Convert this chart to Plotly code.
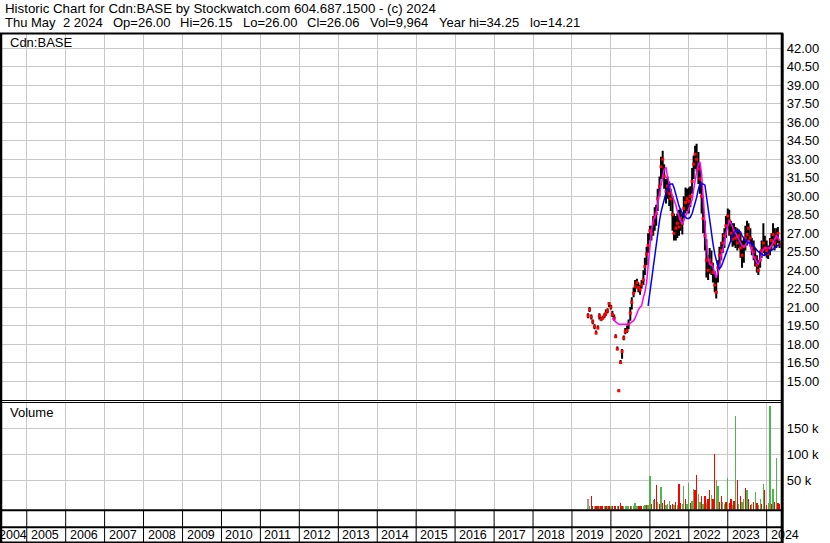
import plotly.graph_objects as go
import pandas as pd

W, H = 830, 543

# ---------------- data ----------------
dates = pd.date_range("2019-06-01", "2024-05-01", freq="SMS")  # semi-monthly sample points

close = [
    20.3, 20.8, 20.2, 19.8, 19.4, 18.9, 19.3, 20.3, 20.0, 20.1, 20.3, 20.5, 20.7, 21.3,
    21.0, 20.4, 20.1, 18.6, 17.6, 14.2, 16.5, 17.4, 18.5, 19.0, 19.1, 19.6, 20.5, 21.4,
    22.1, 22.7, 23.0, 22.6, 22.4, 22.8, 23.2, 24.3, 25.3, 26.0,
    27.2, 27.0, 27.8, 28.3, 28.6, 29.8, 30.8, 32.4, 33.0, 31.6, 30.4, 30.8, 30.2, 29.8,
    28.5, 27.0, 27.4, 27.8, 27.5, 28.2, 27.8, 29.0, 29.5, 29.8,
    29.6, 30.0, 31.2, 32.6, 33.4, 33.0, 32.2, 31.4, 30.0, 28.2, 26.8, 24.8, 24.0, 24.8,
    24.5, 23.8, 22.8, 22.2, 24.2, 25.2, 25.6, 26.2, 26.8, 27.6,
    28.4, 28.0, 27.0, 26.5, 27.2, 26.6, 26.2, 26.8, 25.8, 25.2, 25.9, 26.6, 26.9, 27.4,
    26.6, 25.8, 25.5, 25.0, 24.4, 24.0, 24.8, 25.6, 26.2, 25.8,
    25.6, 25.3, 25.8, 26.4, 26.9, 26.2, 26.6, 27.0, 26.06,
]
high = [
    20.5, 21.0, 20.4, 20.0, 19.6, 19.1, 19.5, 20.5, 20.2, 20.3, 20.5, 20.8, 20.9, 21.4,
    21.2, 20.7, 20.4, 18.8, 17.8, 14.3, 16.7, 17.6, 18.7, 19.3, 19.5, 20.0, 21.0, 21.8,
    22.6, 23.2, 23.3, 23.0, 22.8, 23.2, 24.0, 25.0, 25.9, 27.0,
    27.6, 27.6, 28.4, 29.1, 29.3, 30.6, 31.6, 33.2, 33.7, 32.6, 31.4, 31.6, 31.2, 30.6,
    30.0, 28.6, 28.4, 28.6, 28.9, 29.0, 28.6, 30.0, 30.7, 30.6,
    30.7, 30.8, 32.3, 33.3, 34.1, 34.25, 33.6, 32.6, 31.2, 30.0, 28.0, 26.5, 25.2, 25.8,
    25.6, 24.6, 23.9, 23.4, 24.8, 25.9, 26.3, 27.0, 27.4, 28.4,
    29.0, 28.9, 28.0, 27.8, 27.8, 27.5, 27.4, 27.3, 27.0, 26.4, 26.6, 27.6, 28.0, 27.8,
    27.4, 26.6, 26.4, 25.8, 25.2, 24.8, 25.6, 26.4, 27.8, 26.8,
    26.4, 26.0, 26.6, 27.0, 27.8, 27.4, 27.4, 27.5, 26.4,
]
low = [
    20.1, 20.6, 20.0, 19.6, 19.2, 18.8, 19.2, 20.0, 19.9, 20.0, 20.1, 20.3, 20.5, 21.0,
    20.8, 20.2, 19.9, 18.5, 17.5, 14.1, 16.4, 16.8, 18.3, 18.8, 18.9, 19.2, 19.9, 20.8,
    21.8, 22.2, 22.5, 22.2, 22.0, 22.5, 22.8, 23.6, 24.4, 25.4,
    26.4, 26.4, 26.8, 27.2, 27.6, 28.8, 30.0, 31.4, 31.6, 30.6, 29.4, 29.8, 29.2, 28.8,
    27.2, 26.4, 26.4, 26.6, 26.8, 27.2, 26.9, 28.2, 28.6, 28.8,
    28.6, 29.1, 30.2, 31.4, 32.2, 32.0, 31.0, 30.2, 28.6, 27.0, 25.6, 23.4, 23.2, 23.7,
    23.6, 23.0, 22.2, 21.7, 23.0, 24.2, 24.8, 25.4, 25.8, 26.6,
    27.4, 26.8, 26.3, 25.9, 26.0, 25.8, 25.6, 25.8, 25.0, 24.2, 24.6, 25.6, 26.0, 26.4,
    25.9, 25.2, 24.8, 24.3, 23.8, 23.6, 24.2, 25.0, 25.4, 25.2,
    25.0, 24.9, 25.2, 25.6, 26.0, 25.6, 25.8, 26.2, 25.8,
]
ma_short = [None] * 15 + [
    20.1, 19.9, 19.8, 19.7, 19.6, 19.6, 19.6, 19.6, 19.6, 19.6, 19.6, 19.7, 19.8,
    19.9, 20.1, 20.5, 20.8, 21.0, 21.1, 21.8, 22.2, 23.0, 24.3,
    26.2, 27.2, 28.0, 28.3, 28.6, 29.4, 30.3, 31.0, 31.6, 32.2, 32.3, 31.6, 30.9, 30.5,
    30.0, 29.7, 29.3, 28.8, 28.3, 28.0, 27.8, 28.0, 28.4, 28.6,
    29.0, 29.4, 29.7, 30.5, 31.3, 32.0, 32.6, 32.8, 31.8, 30.2, 27.8, 26.0, 25.0, 24.5,
    24.4, 24.3, 23.8, 23.4, 23.8, 24.2, 25.2, 25.6, 26.2, 27.0,
    27.6, 28.0, 27.8, 27.4, 27.2, 27.0, 26.7, 26.4, 26.2, 26.0, 25.9, 26.0, 26.3, 26.4,
    26.0, 25.5, 25.1, 24.9, 24.6, 24.5, 24.8, 25.4, 25.6, 25.8,
    25.8, 25.8, 25.8, 26.0, 26.2, 26.5, 26.8, 26.7, 26.4,
]
ma_long = [None] * 37 + [
    21.1,
    22.2, 23.3, 24.4, 25.4, 26.3, 27.1, 28.0, 28.7, 29.3, 29.9, 30.3, 30.6, 30.9, 31.0,
    31.0, 30.7, 30.1, 29.6, 29.2, 28.9, 28.6, 28.4, 28.3, 28.2,
    28.2, 28.3, 28.6, 29.0, 29.5, 29.9, 30.6, 31.0, 31.0, 31.0, 30.9, 30.0, 28.8, 27.9,
    27.0, 26.2, 25.3, 24.7, 24.3, 24.1, 24.3, 24.6, 25.0, 25.4,
    25.8, 26.1, 26.5, 26.8, 27.0, 27.2, 27.2, 27.2, 27.1, 26.8, 26.6, 26.4, 26.3, 26.2,
    26.2, 26.1, 26.0, 25.8, 25.6, 25.5, 25.4, 25.3, 25.2, 25.2,
    25.3, 25.4, 25.5, 25.6, 25.7, 25.8, 25.9, 26.0, 26.1,
]
volume = [
    14000, 1000, 20000, 1000, 500, 500, 1000, 500, 500, 1500, 500, 500, 500, 500,
    500, 500, 1500, 1000, 500, 1000, 6000, 500, 500, 1000, 1500, 1000, 1000, 500,
    1000, 6000, 1000, 500, 1500, 500, 1000, 2000, 3000, 2000,
    58000, 5000, 12000, 14000, 41000, 8000, 5000, 38000, 7000, 12000, 3000, 5000, 10000, 3000,
    5000, 3000, 8000, 3000, 43000, 7000, 5000, 40000, 14000, 5000,
    45000, 6000, 10000, 33000, 32000, 60000, 24000, 9000, 19000, 5000, 19000, 6000, 14000, 31000,
    22000, 14000, 100000, 50000, 40000, 9000, 19000, 8000, 5000, 8000,
    54000, 6000, 14000, 3000, 10000, 173000, 50000, 5000, 19000, 8000, 14000, 35000, 32000, 14000,
    3000, 5000, 8000, 27000, 6000, 3000, 14000, 5000, 43000, 31000,
    3000, 6000, 192000, 5000, 34000, 8000, 93000, 6000, 5000,
]
# g = up period, r = down period, n = unchanged
vol_dir = list(
    "ngrrgrrgrrgrgr"
    "grrrgrrrggggrg"
    "gggrrrggrg"
    "grgrrgrgrrgggr"
    "rgrgrrggrg"
    "grggrrggrgrgrr"
    "grrggrrggr"
    "grrgrgrgrggrgr"
    "rgrgrggrgr"
    "rggrgrgrr"
)
price_ticks = [15.0, 16.5, 18.0, 19.5, 21.0, 22.5, 24.0, 25.5, 27.0, 28.5, 30.0, 31.5,
               33.0, 34.5, 36.0, 37.5, 39.0, 40.5, 42.0]
vol_ticks = [50000, 100000, 150000]
vol_tick_text = ["50 k", "100 k", "150 k"]
years = list(range(2005, 2025))

header1 = "Historic Chart for Cdn:BASE by Stockwatch.com 604.687.1500 - (c) 2024"
header2_fields = ["Thu May", "2 2024", "Op=26.00", "Hi=26.15", "Lo=26.00",
                  "Cl=26.06", "Vol=9,964", "Year hi=34.25", "lo=14.21"]
header2_x = [3.3, 61, 110.5, 178, 240.5, 305, 367.5, 436.7, 527.7]  # pixel starts

# ---------------- geometry helpers ----------------
def px(x):
    return x / W

def py(y):
    return 1 - y / H

FONT = "Arial, Liberation Sans, sans-serif"
GRID = "#c8c8c8"
GREEN = "#4cb84c"
dir_color = {"g": GREEN, "r": "#ff0000", "n": "#a0a0a0"}

PLOT_RIGHT = 781.7
VOL_MIN = -6150
VOL_MAX = 199600

# ---------------- traces ----------------
hl_x, hl_y = [], []
for d, h, l in zip(dates, high, low):
    hl_x += [d, d, None]
    hl_y += [l, h, None]

fig = go.Figure()
fig.add_trace(go.Scatter(x=hl_x, y=hl_y, mode="lines",
                         line=dict(color="black", width=2),
                         xaxis="x", yaxis="y", hoverinfo="skip", showlegend=False))
fig.add_trace(go.Scatter(x=dates, y=close, mode="markers",
                         marker=dict(symbol="square", size=3, color="#ff0000"),
                         xaxis="x", yaxis="y", showlegend=False))
fig.add_trace(go.Scatter(x=dates, y=ma_short, mode="lines",
                         line=dict(color="#ff00ff", width=1.5),
                         xaxis="x", yaxis="y", showlegend=False))
fig.add_trace(go.Scatter(x=dates, y=ma_long, mode="lines",
                         line=dict(color="#0000ff", width=1.5),
                         xaxis="x", yaxis="y", showlegend=False))
fig.add_trace(go.Bar(x=dates, y=[v - VOL_MIN for v in volume], base=VOL_MIN,
                     marker=dict(color=[dir_color[c] for c in vol_dir], line=dict(width=0)),
                     width=12 * 24 * 3600 * 1000,
                     xaxis="x2", yaxis="y2", showlegend=False))

xr = ["2004-04-25", "2024-05-21"]
xcommon = dict(type="date", range=xr, domain=[0, px(PLOT_RIGHT)],
               showgrid=True, gridcolor=GRID, gridwidth=1,
               tick0="2005-01-01", dtick="M12", showticklabels=False,
               ticks="", zeroline=False, showline=False, fixedrange=True)

fig.update_layout(
    width=W, height=H,
    margin=dict(l=0, r=0, t=0, b=0),
    paper_bgcolor="white", plot_bgcolor="white",
    showlegend=False,
    bargap=0,
    xaxis=dict(anchor="y", **xcommon),
    xaxis2=dict(anchor="y2", matches="x", **xcommon),
    yaxis=dict(domain=[py(400.5), py(33.5)], range=[13.417, 43.21],
               side="right", anchor="x", tickvals=price_ticks,
               ticktext=[f"{v:.2f}" for v in price_ticks],
               showgrid=True, gridcolor=GRID, gridwidth=1, zeroline=False,
               ticks="", ticklabelstandoff=4, automargin=False, fixedrange=True,
               tickfont=dict(family=FONT, size=13, color="black")),
    yaxis2=dict(domain=[py(509.5), py(402.5)], range=[VOL_MIN, VOL_MAX],
                side="right", anchor="x2", tickvals=vol_ticks, ticktext=vol_tick_text,
                showgrid=True, gridcolor=GRID, gridwidth=1, zeroline=False,
                ticks="", ticklabelstandoff=4, automargin=False, fixedrange=True,
                tickfont=dict(family=FONT, size=13, color="black")),
)

# ---------------- frame lines ----------------
shapes = []
def hline(y, x0, x1, w):
    shapes.append(dict(type="line", xref="paper", yref="paper",
                       x0=px(x0), x1=px(x1), y0=py(y), y1=py(y),
                       line=dict(color="black", width=w), layer="above"))

def vline(x, y0, y1, w):
    shapes.append(dict(type="line", xref="paper", yref="paper",
                       x0=px(x), x1=px(x), y0=py(y0), y1=py(y1),
                       line=dict(color="black", width=w), layer="above"))

hline(33.5, 0, PLOT_RIGHT + 1.5, 2)
hline(400.5, 0, PLOT_RIGHT, 1)
hline(402.5, 0, PLOT_RIGHT, 1)
hline(510.2, 0, PLOT_RIGHT, 2)
hline(527.2, 0, PLOT_RIGHT, 2)
hline(542.2, 0, PLOT_RIGHT, 1.5)
vline(1.0, 33.5, 543, 2.5)
vline(PLOT_RIGHT + 0.5, 33.5, 543, 3)
for yr in years:
    shapes.append(dict(type="line", xref="x", yref="paper",
                       x0=f"{yr}-01-01", x1=f"{yr}-01-01",
                       y0=py(543), y1=py(510.2),
                       line=dict(color="black", width=1), layer="above"))
fig.update_layout(shapes=shapes)

# ---------------- texts ----------------
ann = []
def text(t, x, y, size=13, xanchor="left", xref="paper", xshift=0):
    ann.append(dict(text=t, x=x, y=y, xref=xref, yref="paper",
                    xanchor=xanchor, yanchor="middle", showarrow=False,
                    xshift=xshift,
                    font=dict(family=FONT, size=size, color="black")))

text(header1, px(3), py(8.5), size=13.3)
for t, xp in zip(header2_fields, header2_x):
    text(t, px(xp), py(22.5))
text("Cdn:BASE", px(8), py(42))
text("Volume", px(8), py(413))
text("2004", 0, py(535), size=12.5, xshift=-3)
for yr in years:
    text(str(yr), f"{yr}-01-01", py(535), size=12.5, xref="x", xshift=2)
fig.update_layout(annotations=ann)

fig.write_html("out.html", config={"displayModeBar": False, "staticPlot": True},
               post_script="document.body.style.margin='0';document.body.style.overflow='hidden';")
